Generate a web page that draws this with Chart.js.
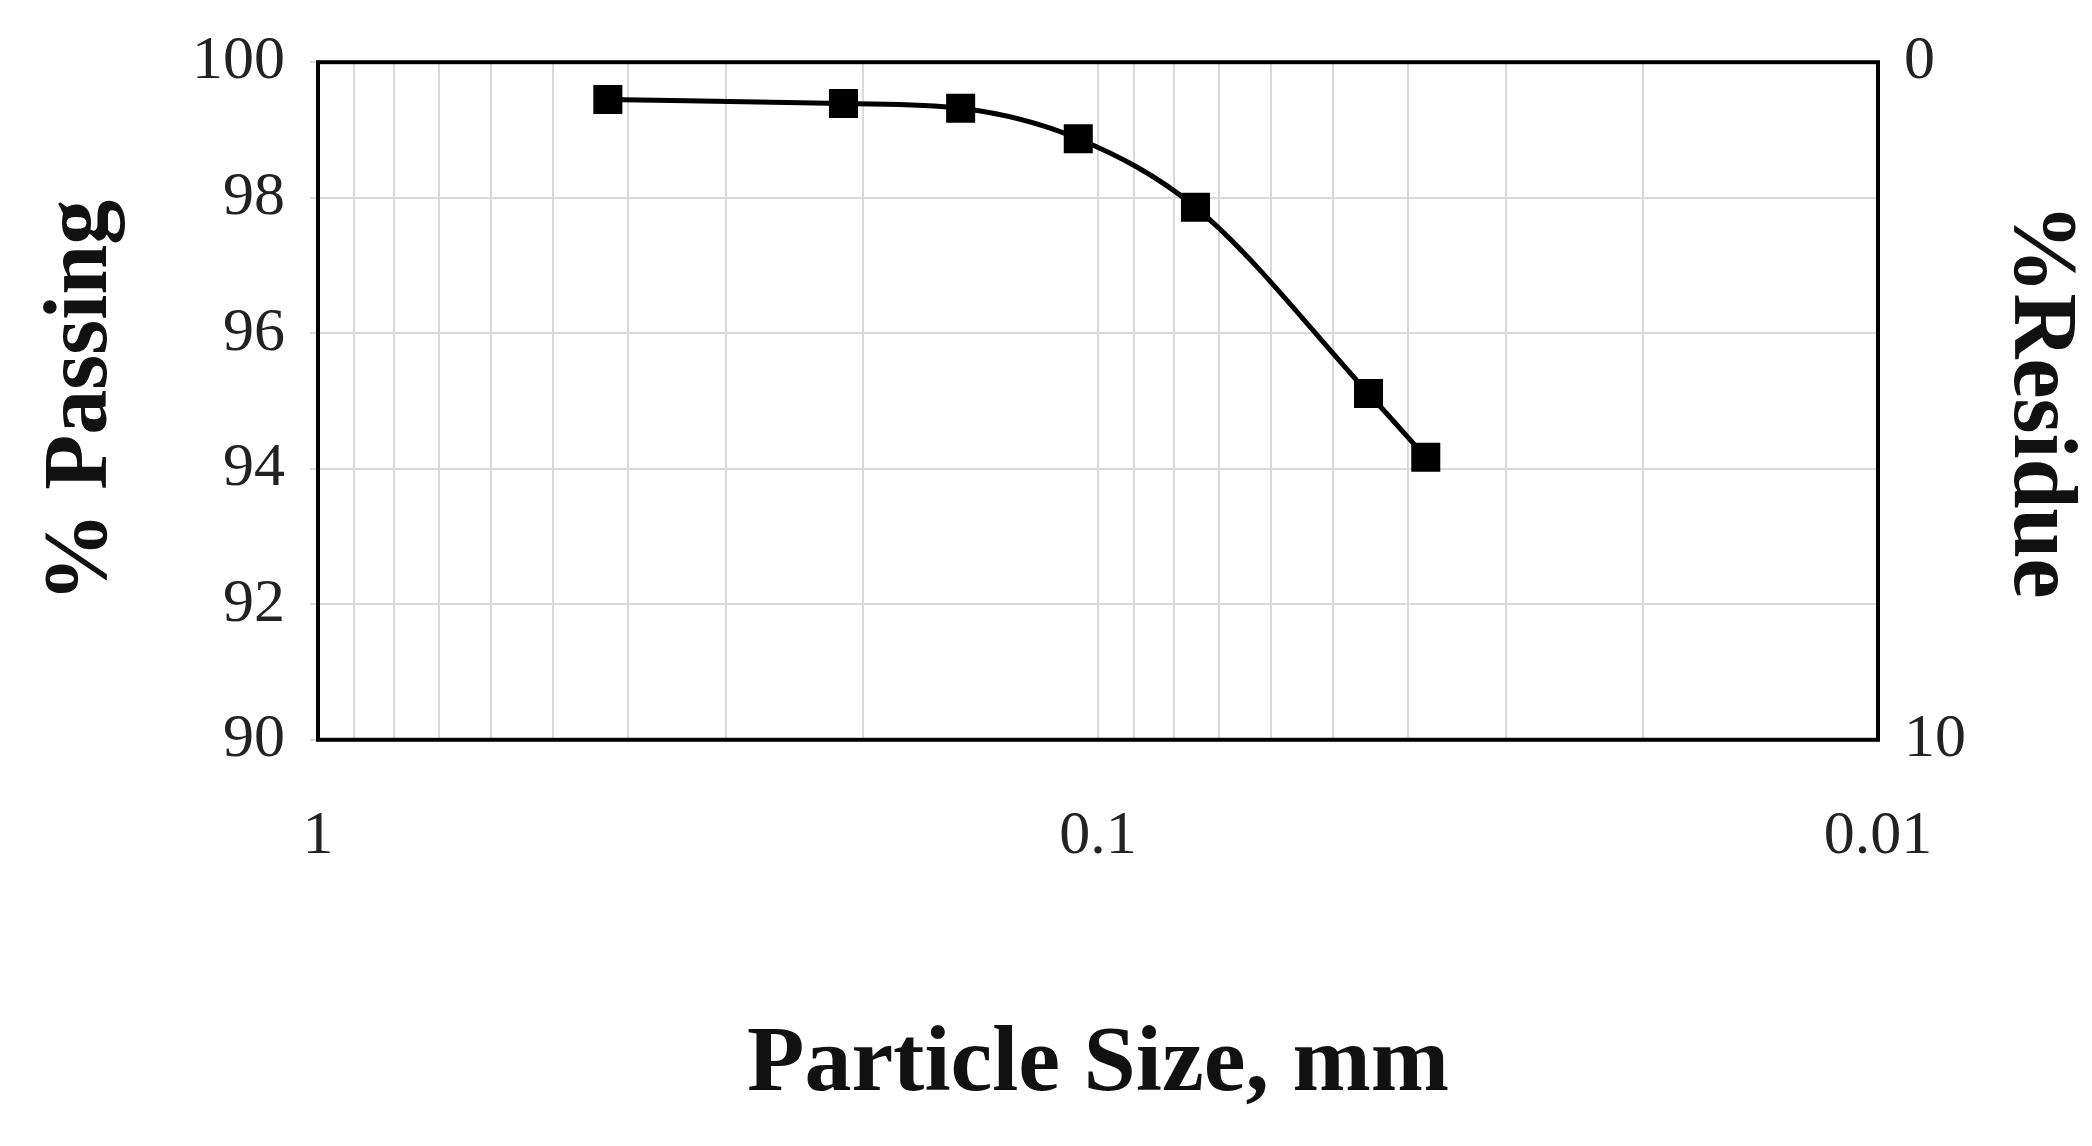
<!DOCTYPE html>
<html><head><meta charset="utf-8">
<script src="https://cdn.jsdelivr.net/npm/chart.js@4/dist/chart.umd.min.js"></script>
<style>html,body{margin:0;background:#fff}</style>
</head><body>
<canvas id="c" width="2092" height="1146"></canvas>
<script>
const sizes = [0.425, 0.212, 0.15, 0.106, 0.075, 0.045, 0.038];
const passing = [99.45, 99.39, 99.32, 98.87, 97.86, 95.11, 94.17];
const yTicks = [90, 92, 94, 96, 98, 100];
const xLabels = [1, 0.1, 0.01];
const residueTicks = [0, 10];

const font = "'Liberation Serif', 'DejaVu Serif', serif";
const border = {id:'border', afterDraw(c){const a=c.chartArea,x=c.ctx;x.save();x.strokeStyle='#000';x.lineWidth=4;x.strokeRect(a.left,a.top,a.right-a.left,a.bottom-a.top);x.restore();}};
new Chart(document.getElementById('c'), {
  type: 'line',
  data: { datasets: [{
    data: sizes.map((s,i)=>({x:s,y:passing[i]})),
    borderColor:'#000', borderWidth:5, backgroundColor:'#000',
    pointStyle:'rect', pointRadius:17, tension:0.4, cubicInterpolationMode:'monotone'
  }]},
  options: {
    responsive:false, devicePixelRatio:1, animation:false,
    layout:{padding:{left:25,right:0,top:20,bottom:20}},
    plugins:{legend:{display:false}, tooltip:{enabled:false}},
    scales:{
      x:{type:'logarithmic', reverse:true, min:0.01, max:1,
        afterBuildTicks(ax){const t=[];for(let e=-2;e<0;e++)for(let m=1;m<10;m++)t.push({value:m*Math.pow(10,e)});t.push({value:1});ax.ticks=t;},
        ticks:{autoSkip:false, maxRotation:0, padding:60, color:'#222', font:{family:font,size:62},
          callback:(v)=>xLabels.some(l=>Math.abs(l-v)<1e-9)?String(v):''},
        grid:{color:'#d9d9d9', lineWidth:2, drawTicks:false},
        border:{display:false},
        title:{display:true, text:'Particle Size, mm', color:'#111', font:{family:font,size:94,weight:'bold'}, padding:{top:75}}
      },
      y:{min:90, max:100,
        afterBuildTicks(ax){ax.ticks=yTicks.map(v=>({value:v}));},
        ticks:{color:'#222', padding:25, font:{family:font,size:62}},
        grid:{color:'#d9d9d9', lineWidth:2, drawTicks:true, tickLength:8},
        border:{display:false},
        title:{display:true, text:'% Passing', color:'#111', font:{family:font,size:90,weight:'bold'}, padding:{bottom:30}}
      },
      y2:{position:'right', min:0, max:10, reverse:true,
        afterBuildTicks(ax){ax.ticks=residueTicks.map(v=>({value:v}));},
        ticks:{color:'#222', padding:18, font:{family:font,size:62}},
        grid:{display:false}, border:{display:false},
        title:{display:true, text:'%Residue', color:'#111', font:{family:font,size:90,weight:'bold'}, padding:0}
      }
    }
  },
  plugins:[border]
});
</script>
</body></html>
